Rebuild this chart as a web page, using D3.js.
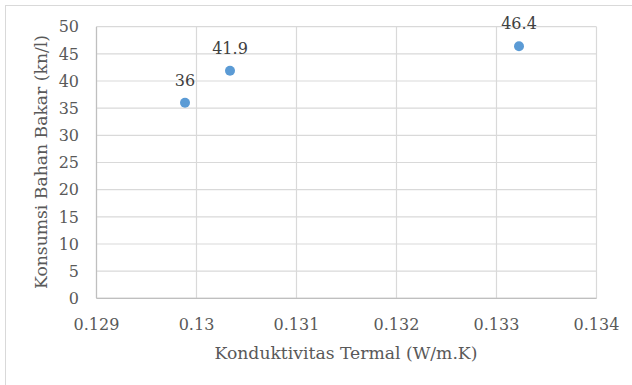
<!DOCTYPE html>
<html><head><meta charset="utf-8">
<script src="https://cdn.jsdelivr.net/npm/d3@7"></script>
<style>body{margin:0;background:#fff}svg{display:block}</style>
</head><body>
<script>
const xValues = [0.129885, 0.130335, 0.133225];
const yValues = [36, 41.9, 46.4];
const pointLabels = ["36", "41.9", "46.4"];
const xTicks = [0.129, 0.130, 0.131, 0.132, 0.133, 0.134];
const xTickLabels = ["0.129", "0.13", "0.131", "0.132", "0.133", "0.134"];
const yTicks = [0, 5, 10, 15, 20, 25, 30, 35, 40, 45, 50];
const xTitle = "Konduktivitas Termal (W/m.K)";
const yTitle = "Konsumsi Bahan Bakar (kn/l)";

(function () {
const W = 632, H = 385;
const svg = d3.select("body").append("svg").attr("width", W).attr("height", H);
svg.append("rect").attr("x", 5.5).attr("y", 5.5).attr("width", 700).attr("height", 500)
  .attr("fill", "#fff").attr("stroke", "#d9d9d9").attr("stroke-width", 1);

const font = "'DejaVu Serif', serif";
const fs = 16, fsTitle = 17.2;
const pL = 96.5, pR = 596.5, pT = 26.7, pB = 298.3;
const x = d3.scaleLinear().domain([0.129, 0.134]).range([pL, pR]);
const y = d3.scaleLinear().domain([0, 50]).range([pB, pT]);
const txt = "#595959";

const g = svg.append("g");
g.selectAll(".hg").data(yTicks).join("line")
  .attr("x1", pL).attr("x2", pR).attr("y1", d => y(d)).attr("y2", d => y(d))
  .attr("stroke", "#d9d9d9").attr("stroke-width", 1.2);
g.selectAll(".vg").data(xTicks).join("line")
  .attr("x1", d => x(d)).attr("x2", d => x(d)).attr("y1", pT).attr("y2", pB)
  .attr("stroke", "#d9d9d9").attr("stroke-width", 1.2);
g.append("line").attr("x1", pL).attr("x2", pR).attr("y1", pB).attr("y2", pB)
  .attr("stroke", "#bfbfbf").attr("stroke-width", 1.2);
g.append("line").attr("x1", pL).attr("x2", pL).attr("y1", pT).attr("y2", pB)
  .attr("stroke", "#bfbfbf").attr("stroke-width", 1.2);

svg.selectAll(".yl").data(yTicks).join("text")
  .attr("x", 79).attr("y", d => y(d)).attr("dy", "0.36em")
  .attr("text-anchor", "end").attr("font-family", font).attr("font-size", fs)
  .attr("fill", txt).text(d => d);
svg.selectAll(".xl").data(xTicks).join("text")
  .attr("x", (d) => x(d)).attr("y", 330)
  .attr("text-anchor", "middle").attr("font-family", font).attr("font-size", fs)
  .attr("fill", txt).text((d, i) => xTickLabels[i]);

svg.append("text").attr("x", 346).attr("y", 359).attr("text-anchor", "middle")
  .attr("font-family", font).attr("font-size", fsTitle)
  .attr("fill", txt).text(xTitle);
svg.append("text").attr("transform", "translate(47,162) rotate(-90)").attr("text-anchor", "middle")
  .attr("font-family", font).attr("font-size", fsTitle)
  .attr("fill", txt).text(yTitle);

const data = xValues.map((v, i) => ({x: v, y: yValues[i], l: pointLabels[i]}));
svg.selectAll(".pt").data(data).join("circle")
  .attr("cx", d => x(d.x)).attr("cy", d => y(d.y)).attr("r", 5).attr("fill", "#5b9bd5");
svg.selectAll(".pl").data(data).join("text")
  .attr("x", d => x(d.x)).attr("y", d => y(d.y) - 17).attr("text-anchor", "middle")
  .attr("font-family", font).attr("font-size", fs)
  .attr("fill", "#404040").text(d => d.l);
})();
</script>
</body></html>
